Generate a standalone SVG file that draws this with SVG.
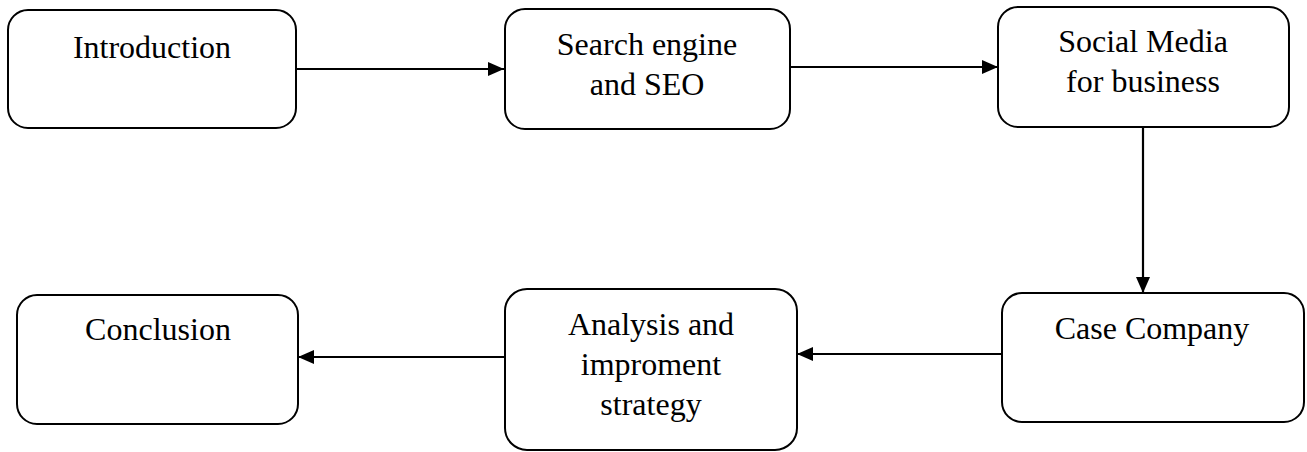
<svg xmlns="http://www.w3.org/2000/svg" width="1307" height="452" viewBox="0 0 1307 452">
  <style>
    .box { fill: #ffffff; stroke: #000000; stroke-width: 2; }
    .label { font-family: "Liberation Serif", "Times New Roman", serif; font-size: 32px; fill: #000000; text-anchor: middle; }
    .link { stroke: #000000; stroke-width: 2.2; fill: none; marker-end: url(#head); }
  </style>
  <defs>
    <marker id="head" viewBox="0 0 16 14" refX="16" refY="7" markerWidth="16" markerHeight="14" markerUnits="userSpaceOnUse" orient="auto">
      <path d="M0,0 L16,7 L0,14 Z" fill="#000000"/>
    </marker>
  </defs>
  <rect width="1307" height="452" fill="#ffffff"/>

  <g id="connectors">
    <line class="link" x1="296" y1="69" x2="504" y2="69"/>
    <line class="link" x1="790" y1="67" x2="998" y2="67"/>
    <line class="link" x1="1143" y1="127" x2="1143" y2="293"/>
    <line class="link" x1="1002" y1="354" x2="797" y2="354"/>
    <line class="link" x1="505" y1="357" x2="298" y2="357"/>
  </g>

  <g id="introduction">
    <rect class="box" x="8" y="10" width="288" height="118" rx="20" ry="20"/>
    <text class="label" x="152" y="58">Introduction</text>
  </g>

  <g id="search-engine">
    <rect class="box" x="505" y="9" width="285" height="120" rx="20" ry="20"/>
    <text class="label" x="647" y="55">Search engine</text>
    <text class="label" x="647" y="95">and SEO</text>
  </g>

  <g id="social-media">
    <rect class="box" x="998" y="7" width="291" height="120" rx="20" ry="20"/>
    <text class="label" x="1143" y="52">Social Media</text>
    <text class="label" x="1143" y="92">for business</text>
  </g>

  <g id="case-company">
    <rect class="box" x="1002" y="293" width="302" height="129" rx="20" ry="20"/>
    <text class="label" x="1152" y="339">Case Company</text>
  </g>

  <g id="analysis">
    <rect class="box" x="505" y="289" width="292" height="161" rx="22" ry="22"/>
    <text class="label" x="651" y="335">Analysis and</text>
    <text class="label" x="651" y="375">improment</text>
    <text class="label" x="651" y="415">strategy</text>
  </g>

  <g id="conclusion">
    <rect class="box" x="17" y="295" width="281" height="129" rx="20" ry="20"/>
    <text class="label" x="158" y="340">Conclusion</text>
  </g>
</svg>
